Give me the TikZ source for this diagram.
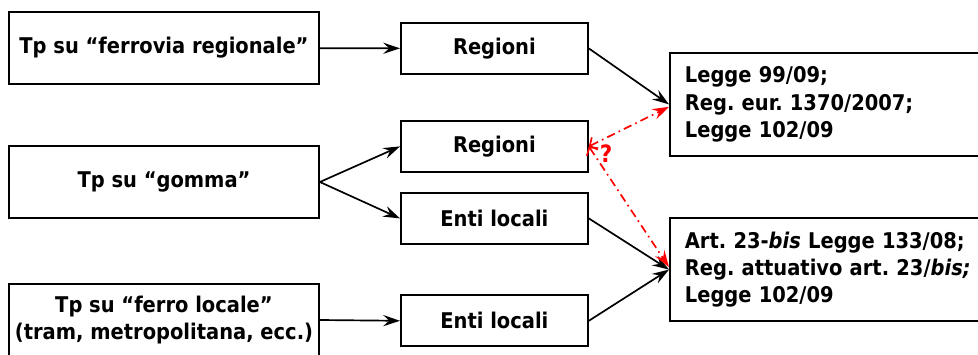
\documentclass[tikz,border=0pt]{standalone}
\usepackage{fontspec}
\setmainfont{DejaVu Sans Condensed}
\usetikzlibrary{arrows.meta}

\begin{document}
\frenchspacing
\begin{tikzpicture}[thick, font=\fontsize{15.4}{19.5}\selectfont\bfseries,
		box/.style = {draw, line width=1.3pt, minimum width=7.75cm, minimum height=1.8cm, align=center},
		ente/.style = {draw, line width=1.3pt, minimum width=4.675cm, minimum height=1.275cm},
		law/.style = {draw, line width=1.3pt, anchor=west, text width=7.6cm, inner xsep=0.375cm, minimum height=2.575cm, align=left},
		arr/.style = {-{Stealth[length=4.2mm, width=2.8mm, inset=1.5mm]}, line width=1.2pt},
		ask/.style = {{Straight Barb[length=1.4mm, width=3.4mm]}-{Stealth[length=4.2mm, width=2.8mm, inset=1.5mm]}, red, line width=1.2pt, dash pattern=on 6pt off 3pt on 1.2pt off 3pt}]

		\clip (0,0) rectangle (24.45,8.85);
		\useasboundingbox (0,0) rectangle (24.45,8.85);

		\node[box] (ferrovia) at (4.1,7.65) {Tp su “ferrovia regionale”};
		\node[box] (gomma) at (4.1,4.3) {Tp su “gomma”};
		\node[box] (ferro) at (4.1,0.85) {Tp su “ferro locale”\\(tram, metropolitana, ecc.)};

		\node[ente] (reg1) at (12.36,7.64) {Regioni};
		\node[ente] (reg2) at (12.36,5.19) {Regioni};
		\node[ente] (enti1) at (12.36,3.39) {Enti locali};
		\node[ente] (enti2) at (12.36,0.83) {Enti locali};

		\node[law] (legge1) at (16.725,6.24) {Legge 99/09;\\Reg. eur. 1370/2007;\\Legge 102/09};
		\node[law] (legge2) at (16.725,2.11) {Art. 23-\textit{bis} Legge 133/08;\\Reg. attuativo art. 23/\textit{bis;}\\Legge 102/09};

		\draw[arr] (ferrovia) -- (reg1);
		\draw[arr] (gomma.east) -- (reg2.west);
		\draw[arr] (gomma.east) -- (enti1.west);
		\draw[arr] (ferro.east) -- (enti2.west);
		\draw[arr] (reg1.east) -- (legge1.west);
		\draw[arr] (enti1.east) -- (legge2.west);
		\draw[arr] (enti2.east) -- (legge2.west);

		\draw[ask] (reg2.east) -- ([yshift=-0.06cm]legge1.west);
		\draw[ask] (reg2.east) -- ([yshift=0.06cm]legge2.west);
		\node[text=red, font=\fontsize{17}{20}\selectfont\bfseries] (q) at (15.15,5.02) {?};

	\end{tikzpicture}
\end{document}
